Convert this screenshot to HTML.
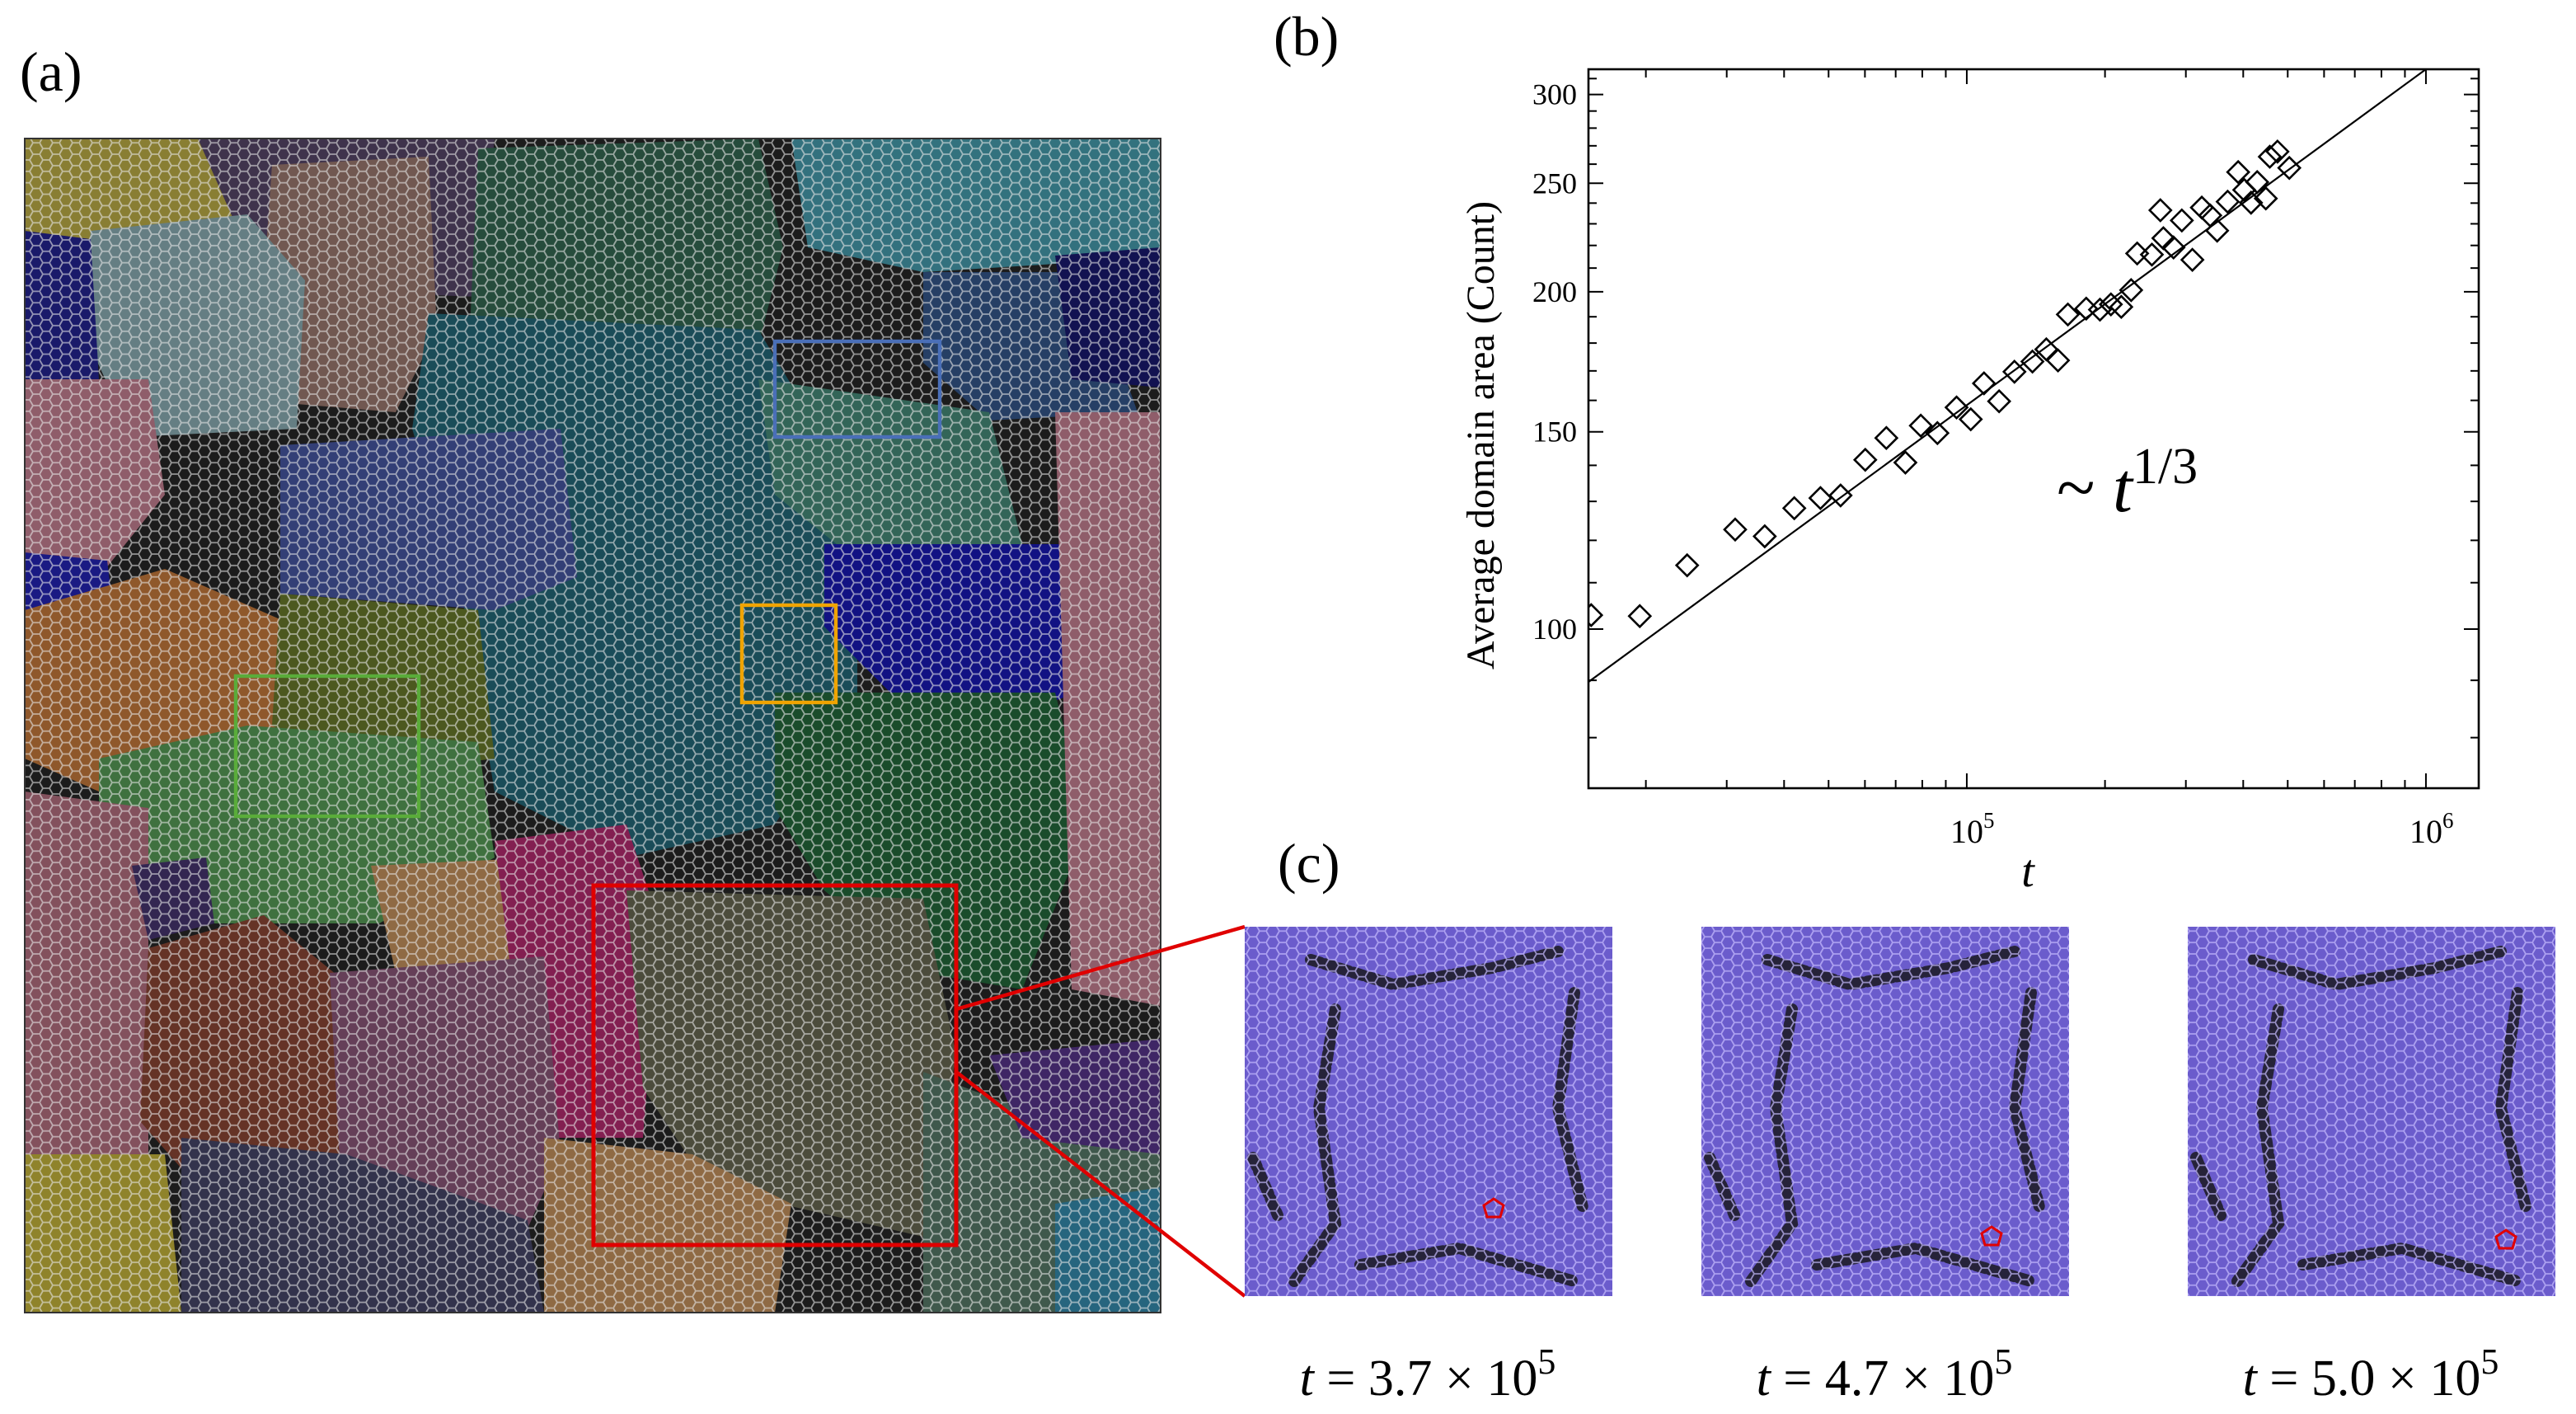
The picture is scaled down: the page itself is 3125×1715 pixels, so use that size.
<!DOCTYPE html>
<html><head><meta charset="utf-8"><style>
html,body{margin:0;padding:0;background:#fff;}
#root{position:relative;width:3125px;height:1715px;overflow:hidden;background:#fff;font-family:"Liberation Serif",serif;}
svg{position:absolute;left:0;top:0;}
</style></head><body>
<div id="root">
<svg id="left" width="3125" height="1715" viewBox="0 0 1562.5 857.5">
<defs>
<pattern id="hex" width="12" height="6.928" patternUnits="userSpaceOnUse">
<path d="M0,3.464 L2,0 L6,0 L8,3.464 L6,6.928 L2,6.928 Z M8,3.464 L12,3.464" fill="none" stroke="rgba(230,230,230,0.6)" stroke-width="0.9"/>
</pattern>
<pattern id="hexd" width="12" height="6.928" patternUnits="userSpaceOnUse">
<path d="M0,3.464 L2,0 L6,0 L8,3.464 L6,6.928 L2,6.928 Z M8,3.464 L12,3.464" fill="none" stroke="rgba(200,190,255,0.7)" stroke-width="0.9"/>
</pattern>
<clipPath id="clipA"><rect x="15" y="84" width="689" height="712"/></clipPath>
</defs>
<text x="12" y="55" font-size="34">(a)</text>
<g clip-path="url(#clipA)">
<rect x="15" y="84" width="689" height="712" fill="#1c1c1c"/>
<g id="regions" opacity="0.78"></g>
<rect x="15" y="84" width="689" height="712" fill="url(#hex)"/>
</g>
<rect x="15" y="84" width="689" height="712" fill="none" stroke="#333" stroke-width="1"/>
<rect x="470" y="207" width="100" height="58" fill="none" stroke="#4a6fb8" stroke-width="2.2"/>
<rect x="450" y="367" width="57" height="59" fill="none" stroke="#f0a400" stroke-width="2.2"/>
<rect x="143" y="410" width="111" height="85" fill="none" stroke="#5aac3a" stroke-width="2.2"/>
<rect x="360" y="537" width="220" height="218" fill="none" stroke="#e00000" stroke-width="2.5"/>
<line x1="580" y1="612" x2="755" y2="562" stroke="#e00000" stroke-width="2.2"/>
<line x1="580" y1="650" x2="755" y2="786" stroke="#e00000" stroke-width="2.2"/>
<text x="775" y="535" font-size="34">(c)</text>
<g id="insets"></g>
</svg>

<svg id="chart" width="3125" height="1715" viewBox="0 0 3125 1715"></svg>
</div>
<script>
// ---------- chart data ----------
const timeValues=[15200,19400,24600,31300,36300,42100,48000,53100,60100,66800,73500,79400,86300,95000,102000,109000,117600,127000,139000,149000,158000,166000,182000,195000,206000,217000,228000,235000,253000,268000,264000,282000,294000,310000,325000,339000,351000,370000,390000,402000,416000,429000,448000,457000,475000,504000];
const areaValues=[102.9,102.7,114.0,122.7,121.0,128.2,130.9,131.6,141.6,148.1,140.8,151.9,149.6,157.7,153.9,165.7,159.7,169.7,173.3,177.7,173.7,190.9,193.2,192.8,194.9,193.9,200.7,216.4,215.9,223.3,236.5,219.1,231.6,213.6,237.8,234.0,226.8,240.7,255.8,246.6,240.2,250.6,242.3,264.0,266.8,258.0];
const fitT=[15000,1000000];
const fitA=[89.7,316];
const yTickValues=[100,150,200,250,300];
const yTickLabels=["100","150","200","250","300"];
const xTickValues=[1e5,1e6];
const xTickExp=["5","6"];

const NS="http://www.w3.org/2000/svg";
const L=1927,R=3007,T=84,B=956;
const xMinL=4.176,xMaxL=6.115,yMinL=Math.log10(72.1),yMaxL=Math.log10(316);
function sx(v){return L+(Math.log10(v)-xMinL)/(xMaxL-xMinL)*(R-L);}
function sy(v){return B-(Math.log10(v)-yMinL)/(yMaxL-yMinL)*(B-T);}
const chart=document.getElementById('chart');
function mk(tag,attrs,parent){const e=document.createElementNS(NS,tag);for(const k in attrs)e.setAttribute(k,attrs[k]);(parent||chart).appendChild(e);return e;}

let t=mk('text',{x:1545,y:67,'font-size':68,'font-family':'Liberation Serif'});t.textContent='(b)';



const clip=mk('clipPath',{id:'plotclip'});mk('rect',{x:L,y:T,width:R-L,height:B-T},clip);
const fl=mk('line',{x1:sx(fitT[0]),y1:sy(fitA[0]),x2:sx(fitT[1]),y2:sy(fitA[1]),stroke:'#000','stroke-width':2.2,'clip-path':'url(#plotclip)'});


const pg=mk('g',{'clip-path':'url(#plotclip)'});


for(let i=0;i<timeValues.length;i++){
 const cx=sx(timeValues[i]),cy=sy(areaValues[i]),h=13;
 const p=mk('path',{d:`M${cx},${cy-h} L${cx+h},${cy} L${cx},${cy+h} L${cx-h},${cy} Z`,fill:'none',stroke:'#000','stroke-width':2.6},pg);
 
 
}
const box=mk('rect',{x:L,y:T,width:R-L,height:B-T,fill:'none',stroke:'#000','stroke-width':2.6});


for(let v=80;v<=310;v+=10){
 const y=sy(v);const major=(v%50===0);const len=major?18:10;
 mk('line',{x1:L,y1:y,x2:L+len,y2:y,stroke:'#000','stroke-width':2});
 mk('line',{x1:R,y1:y,x2:R-len,y2:y,stroke:'#000','stroke-width':2});
}
for(let i=0;i<yTickValues.length;i++){
 const tx=mk('text',{x:L-14,y:sy(yTickValues[i])+12,'font-size':36,'text-anchor':'end','font-family':'Liberation Serif'});
 tx.textContent=yTickLabels[i];
 
 
}
for(let d=4;d<=6;d++){for(let m=1;m<10;m++){const v=m*Math.pow(10,d);const lv=Math.log10(v);if(lv<xMinL||lv>xMaxL)continue;
 const x=sx(v);const len=(m===1)?18:10;
 mk('line',{x1:x,y1:B,x2:x,y2:B-len,stroke:'#000','stroke-width':2});
 mk('line',{x1:x,y1:T,x2:x,y2:T+len,stroke:'#000','stroke-width':2});}}
for(let i=0;i<xTickValues.length;i++){
 const tx=mk('text',{x:sx(xTickValues[i])-20,y:B+66,'font-size':40,'font-family':'Liberation Serif'});
 tx.innerHTML='10<tspan dy="-18" font-size="27">'+xTickExp[i]+'</tspan>';
 
 
}
let xt=mk('text',{x:2460,y:1075,'font-size':56,'font-style':'italic','text-anchor':'middle','font-family':'Liberation Serif'});xt.textContent='t';


let yt=mk('text',{x:0,y:0,'font-size':48,'text-anchor':'middle','font-family':'Liberation Serif',transform:`translate(1812,${(T+B)/2+8}) rotate(-90)`});yt.textContent='Average domain area (Count)';


let an=mk('text',{x:2495,y:620,'font-size':86,'font-family':'Liberation Serif'});


an.innerHTML='~ <tspan font-style="italic">t</tspan><tspan dy="-34" font-size="62">1/3</tspan>';

// ---------- panel (a) regions ----------
const regions=[
 ["#a89a3a","15,84 150,84 140,140 90,160 15,150"],
 ["#4a3a5a","120,84 300,84 290,180 160,175"],
 ["#8a6a60","165,100 260,95 265,200 240,250 180,245 160,170"],
 ["#7a9aa0","55,140 150,130 185,170 180,260 80,265 50,200"],
 ["#1a1a80","15,140 55,145 60,230 15,235"],
 ["#2a5a45","290,90 460,84 475,150 450,250 330,250 285,200"],
 ["#3a8a9a","480,84 704,84 704,150 640,160 560,165 490,150"],
 ["#2a4a7a","560,165 660,165 690,250 600,255 560,220"],
 ["#101060","640,155 704,150 704,235 650,230"],
 ["#b07080","15,230 90,230 100,300 60,350 15,340"],
 ["#1a5a6a","260,190 460,200 520,300 520,420 470,500 380,520 300,480 280,360 250,260"],
 ["#3a4a90","170,270 340,260 350,350 300,370 170,360"],
 ["#3a7a6a","460,230 600,250 620,330 520,340 470,300"],
 ["#1a1aa0","15,335 65,340 70,380 15,385"],
 ["#1010a0","500,330 704,330 704,400 640,425 540,420 500,380"],
 ["#b06a30","15,370 100,345 180,380 170,470 60,480 15,460"],
 ["#5a6a20","170,360 290,370 300,460 220,470 165,440"],
 ["#4a8a4a","60,460 150,440 290,450 300,520 230,560 120,560 60,520"],
 ["#1a5a30","470,420 640,420 660,500 620,600 560,590 500,540 470,490"],
 ["#b07080","640,250 704,250 704,610 650,600"],
 ["#a06070","15,480 90,490 90,720 15,710"],
 ["#3a2a60","80,525 125,520 130,560 90,570"],
 ["#7a3a2a","90,575 160,555 215,600 210,700 120,720 85,680"],
 ["#b08050","225,525 330,520 330,590 240,590"],
 ["#a02060","300,510 380,500 400,560 390,690 330,690 310,590"],
 ["#7a4a6a","200,590 330,580 340,700 300,790 210,780"],
 ["#5a5a45","380,540 560,545 580,640 560,750 430,720 390,660"],
 ["#b08050","330,690 420,700 480,730 470,796 330,796"],
 ["#3a3a5a","110,690 210,700 320,740 330,796 110,796"],
 ["#b0a030","15,700 100,700 110,796 15,796"],
 ["#4a6a5a","560,650 640,680 704,690 704,796 560,796"],
 ["#4a2a7a","600,640 704,630 704,700 620,690"],
 ["#2a7a9a","640,730 704,720 704,796 640,796"]
];
const rg=document.getElementById('regions');
for(const r of regions){const p=document.createElementNS(NS,'polygon');p.setAttribute('points',r[1]);p.setAttribute('fill',r[0]);rg.appendChild(p);}

// ---------- insets (c) ----------
const insetX=[755,1032,1327];
const insetLabels=["3.7","4.7","5.0"];
const starPos=[[151,171],[176,188],[193,190]];
const ig=document.getElementById('insets');
for(let k=0;k<3;k++){
 const x0=insetX[k],y0=562,w=223,h=224;
 const g=document.createElementNS(NS,'g');
 
 
 g.innerHTML=`<rect x="${x0}" y="${y0}" width="${w}" height="${h}" fill="#6b5ccc"/>
 <g stroke="#151515" stroke-width="7" fill="none" stroke-linecap="round" stroke-dasharray="6 3" opacity="0.8">
 <polyline points="${x0+40},${y0+20} ${x0+90},${y0+35} ${x0+150},${y0+25} ${x0+190},${y0+15}"/>
 <polyline points="${x0+55},${y0+50} ${x0+45},${y0+110} ${x0+55},${y0+180} ${x0+30},${y0+215}"/>
 <polyline points="${x0+200},${y0+40} ${x0+190},${y0+110} ${x0+205},${y0+170}"/>
 <polyline points="${x0+70},${y0+205} ${x0+130},${y0+195} ${x0+200},${y0+215}"/>
 <polyline points="${x0+5},${y0+140} ${x0+20},${y0+175}"/>
 </g>
 <rect x="${x0}" y="${y0}" width="${w}" height="${h}" fill="url(#hexd)"/>
 <polygon points="${x0+starPos[k][0]},${y0+starPos[k][1]-6} ${x0+starPos[k][0]+6},${y0+starPos[k][1]-2} ${x0+starPos[k][0]+4},${y0+starPos[k][1]+5} ${x0+starPos[k][0]-4},${y0+starPos[k][1]+5} ${x0+starPos[k][0]-6},${y0+starPos[k][1]-2}" fill="none" stroke="#e00000" stroke-width="1.5"/>
 <text x="${x0+111}" y="${y0+284}" font-size="31" text-anchor="middle" font-family="Liberation Serif"><tspan font-style="italic">t</tspan> = ${insetLabels[k]} × 10<tspan dy="-13" font-size="22">5</tspan></text>`;
 ig.appendChild(g);
}
</script>
</body></html>
